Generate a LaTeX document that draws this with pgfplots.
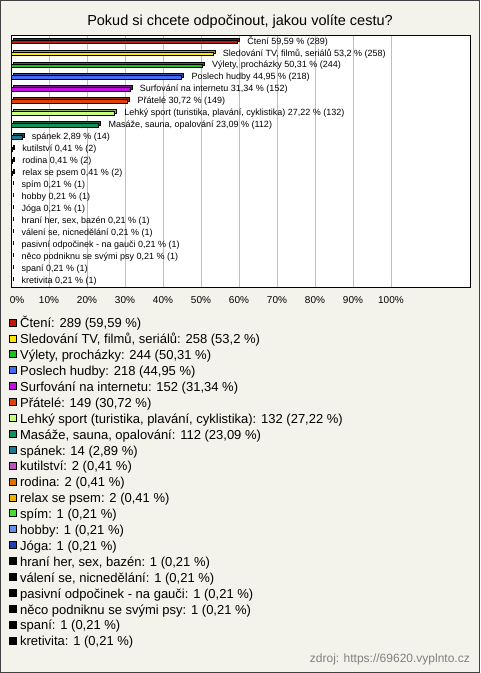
\documentclass[border=0pt]{standalone}
\usepackage{pgfplots}
\pgfplotsset{compat=1.18}
\usepackage{fontspec}
\setmainfont{Liberation Sans}
\definecolor{bg}{HTML}{F4F3EB}
\definecolor{c1}{RGB}{192,24,10}
\definecolor{c2}{RGB}{255,232,0}
\definecolor{c3}{RGB}{28,192,28}
\definecolor{c4}{RGB}{70,106,240}
\definecolor{c5}{RGB}{192,16,224}
\definecolor{c6}{RGB}{226,64,10}
\definecolor{c7}{RGB}{200,255,128}
\definecolor{c8}{RGB}{16,144,90}
\definecolor{c9}{RGB}{26,120,144}
\definecolor{c10}{RGB}{192,80,192}
\definecolor{c11}{RGB}{224,112,0}
\definecolor{c12}{RGB}{232,180,0}
\definecolor{c13}{RGB}{64,224,48}
\definecolor{c14}{RGB}{104,144,232}
\definecolor{c15}{RGB}{32,64,176}
\newcommand\mybar[5]{%
 \addplot[xbar, bar shift=0pt, bar width=3.5pt, fill=#1!70!black, draw=black, line width=0.7pt, xshift=2pt, yshift=2pt, forget plot] coordinates {(#2,#3)};
 \addplot[xbar, bar shift=0pt, bar width=3.5pt, fill=#1, draw=black, line width=0.7pt,
   legend image code/.code={\draw[fill=#1, draw=black, line width=0.6pt] (0pt,-1.5pt) rectangle (7pt,5.5pt);},
   nodes near coords={#4}, nodes near coords style={anchor=west, font=\fontsize{9}{10}\selectfont, inner sep=0pt, xshift=9.5pt, text=black}] coordinates {(#2,#3)};
 \addlegendentry{#5}
}
\begin{document}
\begin{tikzpicture}
\useasboundingbox (0pt,0pt) rectangle (480pt,-673pt);
\fill[bg] (0pt,0pt) rectangle (480pt,-673pt);
\draw[line width=1pt, black!75] (0.5pt,-0.5pt) rectangle (479.5pt,-672.5pt);
\node[anchor=base, font=\fontsize{14.5}{16}\selectfont, inner sep=0pt] at (240pt,-25pt) {Pokud si chcete odpočinout, jakou volíte cestu?};
\begin{axis}[
  at={(11pt,-35pt)}, anchor=north west,
  scale only axis, width=459pt, height=252pt,
  xmin=0, xmax=120.8, ymin=0.44, ymax=21.53, y dir=reverse,
  axis background/.style={fill=white},
  axis line style={black, line width=1pt},
  xtick={0,10,...,100},
  xticklabels={\hspace*{12pt}0\%,10\%,20\%,30\%,40\%,50\%,60\%,70\%,80\%,90\%,100\%},
  xticklabel style={font=\fontsize{10}{12}\selectfont, yshift=-5.5pt},
  ytick=\empty,
  major tick length=0pt,
  xmajorgrids, major grid style={black!25, line width=0.8pt},
  /pgf/number format/assume math mode=true,
  legend cell align=left,
  legend style={at={(axis description cs:-0.0054,-0.117)}, anchor=north west, draw=none, fill=none,
    font=\fontsize{13}{15}\selectfont, inner sep=0pt, outer sep=0pt, row sep=0pt,
    /tikz/every odd column/.style={column sep=2.5pt},
    nodes={inner xsep=1.5pt, inner ysep=2pt, text height=9.4pt, text depth=2.5pt}},
]
\mybar{c1}{59.59}{1}{Čtení 59,59 \% (289)}{Čtení: 289 (59,59 \%)}
\mybar{c2}{53.2}{2}{Sledování TV, filmů, seriálů 53,2 \% (258)}{Sledování TV, filmů, seriálů: 258 (53,2 \%)}
\mybar{c3}{50.31}{3}{Výlety, procházky 50,31 \% (244)}{Výlety, procházky: 244 (50,31 \%)}
\mybar{c4}{44.95}{4}{Poslech hudby 44,95 \% (218)}{Poslech hudby: 218 (44,95 \%)}
\mybar{c5}{31.34}{5}{Surfování na internetu 31,34 \% (152)}{Surfování na internetu: 152 (31,34 \%)}
\mybar{c6}{30.72}{6}{Přátelé 30,72 \% (149)}{Přátelé: 149 (30,72 \%)}
\mybar{c7}{27.22}{7}{Lehký sport (turistika, plavání, cyklistika) 27,22 \% (132)}{Lehký sport (turistika, plavání, cyklistika): 132 (27,22 \%)}
\mybar{c8}{23.09}{8}{Masáže, sauna, opalování 23,09 \% (112)}{Masáže, sauna, opalování: 112 (23,09 \%)}
\mybar{c9}{2.89}{9}{spánek 2,89 \% (14)}{spánek: 14 (2,89 \%)}
\mybar{c10}{0.41}{10}{kutilství 0,41 \% (2)}{kutilství: 2 (0,41 \%)}
\mybar{c11}{0.41}{11}{rodina 0,41 \% (2)}{rodina: 2 (0,41 \%)}
\mybar{c12}{0.41}{12}{relax se psem 0,41 \% (2)}{relax se psem: 2 (0,41 \%)}
\mybar{c13}{0.21}{13}{spím 0,21 \% (1)}{spím: 1 (0,21 \%)}
\mybar{c14}{0.21}{14}{hobby 0,21 \% (1)}{hobby: 1 (0,21 \%)}
\mybar{c15}{0.21}{15}{Jóga 0,21 \% (1)}{Jóga: 1 (0,21 \%)}
\mybar{black}{0.21}{16}{hraní her, sex, bazén 0,21 \% (1)}{hraní her, sex, bazén: 1 (0,21 \%)}
\mybar{black}{0.21}{17}{válení se, nicnedělání 0,21 \% (1)}{válení se, nicnedělání: 1 (0,21 \%)}
\mybar{black}{0.21}{18}{pasivní odpočinek - na gauči 0,21 \% (1)}{pasivní odpočinek - na gauči: 1 (0,21 \%)}
\mybar{black}{0.21}{19}{něco podniknu se svými psy 0,21 \% (1)}{něco podniknu se svými psy: 1 (0,21 \%)}
\mybar{black}{0.21}{20}{spaní 0,21 \% (1)}{spaní: 1 (0,21 \%)}
\mybar{black}{0.21}{21}{kretivita 0,21 \% (1)}{kretivita: 1 (0,21 \%)}
\end{axis}
\node[anchor=east, text=black!50, font=\fontsize{12}{14}\selectfont, inner sep=0pt] at (470pt,-659pt) {zdroj: https://69620.vyplnto.cz};
\end{tikzpicture}
\end{document}
